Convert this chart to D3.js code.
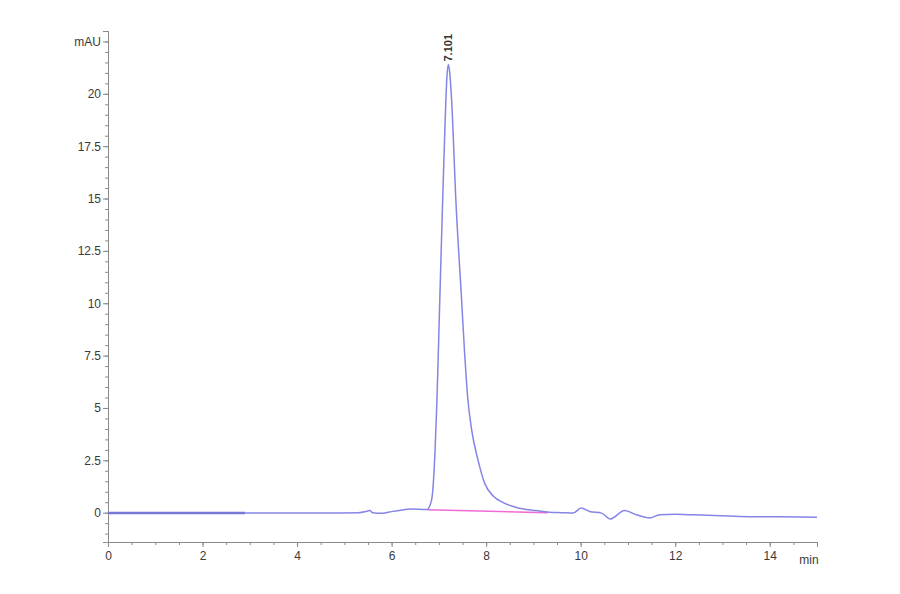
<!DOCTYPE html>
<html>
<head>
<meta charset="utf-8">
<script src="https://cdn.jsdelivr.net/npm/d3@7"></script>
<style>
  body { margin: 0; background: #fff; }
  text { font-family: "Liberation Sans", Arial, sans-serif; }
</style>
</head>
<body>
<div id="chart"></div>
<script>
// retention time (min) and detector signal (mAU)
const times = [0, 1, 2, 2.9, 3.5, 4.5, 5.3, 5.5, 5.54, 5.6, 5.8, 6.0, 6.2, 6.4, 6.6, 6.75,
  6.82, 6.86, 6.92, 6.96, 7.02, 7.08, 7.13, 7.17, 7.20, 7.23, 7.27, 7.36, 7.48, 7.54,
  7.61, 7.69, 7.83, 7.97, 8.15, 8.36, 8.64, 9.06, 9.34, 9.6, 9.84, 10.01, 10.19, 10.44,
  10.63, 10.93, 11.18, 11.46, 11.67, 12.0, 12.37, 13.36, 14.2, 15];
const signal = [-0.02, -0.02, -0.02, -0.02, -0.02, -0.02, 0.0, 0.08, 0.1, 0.0, -0.03, 0.05,
  0.12, 0.17, 0.16, 0.15, 0.4, 0.8, 3.0, 5.4, 10.2, 14.9, 18.5, 20.8, 21.4, 21.0, 19.7,
  14.9, 10.2, 7.8, 5.5, 4.0, 2.5, 1.4, 0.8, 0.48, 0.25, 0.1, 0.02, 0.0, -0.02, 0.22, 0.06,
  -0.02, -0.3, 0.11, -0.1, -0.25, -0.1, -0.08, -0.1, -0.18, -0.2, -0.22];

// integration baseline under the peak
const baseTimes = [6.75, 9.3];
const baseValues = [0.14, 0.0];

// peak annotation
const peakTime = 7.2;
const peakValue = 21.4;
const peakLabel = "7.101";

const xTicks = [0, 2, 4, 6, 8, 10, 12, 14];
const yTicks = [0, 2.5, 5, 7.5, 10, 12.5, 15, 17.5, 20, 22.5];
const yTickLabels = ["0", "2.5", "5", "7.5", "10", "12.5", "15", "17.5", "20", "mAU"];

let width = 900, height = 594;
let svg = d3.select("#chart").append("svg")
    .attr("width", width)
    .attr("height", height);

let x = d3.scaleLinear().domain([0, 15]).range([108, 817]);
let y = d3.scaleLinear().domain([-1.4, 23]).range([542, 31]);

let axisColor = "#8a8a8a";
let textColor = "#3a3a3a";

// y axis
let yAxis = svg.append("g")
    .attr("transform", "translate(" + x(0) + ",0)");
yAxis.call(d3.axisLeft(y).tickValues(d3.range(-1, 23.01, 0.5)).tickSize(3).tickFormat(""));
yAxis.append("g").call(d3.axisLeft(y).tickValues(yTicks).tickSize(5)
    .tickFormat(function (d, i) { return yTickLabels[i]; }));
yAxis.selectAll("path").attr("stroke", axisColor);
yAxis.selectAll("line").attr("stroke", axisColor);
yAxis.selectAll("text")
    .attr("fill", textColor)
    .style("font-size", "12px")
    .attr("x", -7);

// x axis
let xAxis = svg.append("g")
    .attr("transform", "translate(0," + y.range()[0] + ")");
xAxis.call(d3.axisBottom(x).tickValues(d3.range(0, 15.01, 0.5)).tickSize(3).tickFormat(""));
xAxis.append("g").call(d3.axisBottom(x).tickValues(xTicks).tickSize(5)
    .tickFormat(d3.format("d")));
xAxis.selectAll("path").attr("stroke", axisColor);
xAxis.selectAll("line").attr("stroke", axisColor);
xAxis.selectAll("text")
    .attr("fill", textColor)
    .style("font-size", "12px")
    .attr("y", 9);
xAxis.append("text")
    .attr("x", x(15) - 8)
    .attr("y", 22)
    .attr("text-anchor", "middle")
    .attr("fill", textColor)
    .style("font-size", "12px")
    .text("min");

// trace
let points = times.map(function (t, i) { return [t, signal[i]]; });
let line = d3.line()
    .x(function (d) { return x(d[0]); })
    .y(function (d) { return y(d[1]); })
    .curve(d3.curveMonotoneX);

// baseline
svg.append("path")
    .datum(baseTimes.map(function (t, i) { return [t, baseValues[i]]; }))
    .attr("fill", "none")
    .attr("stroke", "#f06ad8")
    .attr("stroke-width", 1.5)
    .attr("d", d3.line().x(function (d) { return x(d[0]); }).y(function (d) { return y(d[1]); }));

svg.append("path")
    .datum(points)
    .attr("fill", "none")
    .attr("stroke", "#8585e6")
    .attr("stroke-width", 1.5)
    .attr("d", line);

// heavier start of the trace
svg.append("path")
    .datum(points.filter(function (d) { return d[0] <= 2.9; }))
    .attr("fill", "none")
    .attr("stroke", "#7777d6")
    .attr("stroke-width", 2.5)
    .attr("d", line);

// peak label
svg.append("text")
    .attr("transform", "translate(" + (x(peakTime) + 4) + "," + (y(peakValue) - 3) + ") rotate(-90)")
    .attr("fill", "#333")
    .style("font-size", "11px")
    .style("font-weight", "bold")
    .text(peakLabel);
</script>
</body>
</html>
